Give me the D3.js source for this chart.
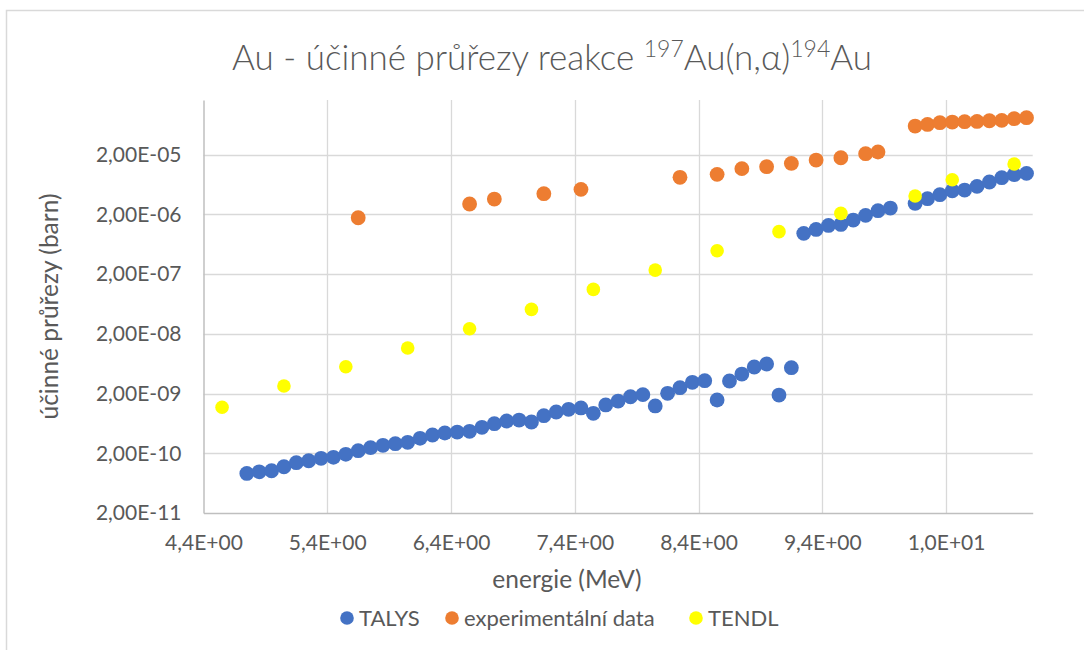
<!DOCTYPE html>
<html>
<head>
<meta charset="utf-8">
<script src="https://cdn.jsdelivr.net/npm/d3@7"></script>
<style>
  html, body { margin: 0; padding: 0; background: #fff; }
  svg { display: block; font-family: Lato, "Open Sans", sans-serif; }
</style>
</head>
<body>
<svg id="chart" width="1084" height="650"></svg>
<script>
// Energies (MeV) and cross sections (barn) for 197Au(n,α)194Au
const talysEnergy = [
  4.75, 4.85, 4.95, 5.05, 5.15, 5.25, 5.35, 5.45, 5.55, 5.65,
  5.75, 5.85, 5.95, 6.05, 6.15, 6.25, 6.35, 6.45, 6.55, 6.65,
  6.75, 6.85, 6.95, 7.05, 7.15, 7.25, 7.35, 7.45, 7.55, 7.65,
  7.75, 7.85, 7.95, 8.05, 8.15, 8.25, 8.35, 8.45, 8.55, 8.65,
  8.75, 8.85, 8.95, 9.05, 9.15,
  9.25, 9.35, 9.45, 9.55, 9.65, 9.75, 9.85, 9.95,
  10.15, 10.25, 10.35, 10.45, 10.55, 10.65, 10.75, 10.85, 10.95, 11.05
];
const talysSigma = [
  9.2e-11, 9.8e-11, 1.02e-10, 1.19e-10, 1.39e-10, 1.50e-10, 1.65e-10, 1.71e-10, 1.92e-10, 2.21e-10,
  2.48e-10, 2.72e-10, 2.90e-10, 3.05e-10, 3.56e-10, 4.05e-10, 4.37e-10, 4.54e-10, 4.67e-10, 5.45e-10,
  6.27e-10, 6.95e-10, 7.21e-10, 6.68e-10, 8.53e-10, 9.82e-10, 1.09e-9, 1.15e-9, 9.33e-10, 1.29e-9,
  1.50e-9, 1.77e-9, 1.92e-9, 1.24e-9, 2.02e-9, 2.51e-9, 3.09e-9, 3.29e-9, 1.56e-9, 3.25e-9,
  4.25e-9, 5.57e-9, 6.26e-9, 1.89e-9, 5.43e-9,
  9.64e-7, 1.12e-6, 1.31e-6, 1.36e-6, 1.61e-6, 1.93e-6, 2.31e-6, 2.56e-6,
  3.06e-6, 3.67e-6, 4.28e-6, 4.99e-6, 5.12e-6, 5.90e-6, 6.98e-6, 8.25e-6, 9.25e-6, 9.74e-6
];

const expEnergy = [
  5.65, 6.55, 6.75, 7.15, 7.45, 8.25, 8.55, 8.75, 8.95, 9.15,
  9.35, 9.55, 9.75, 9.85, 10.15, 10.25, 10.35, 10.45, 10.55, 10.65,
  10.75, 10.85, 10.95, 11.05
];
const expSigma = [
  1.76e-6, 2.99e-6, 3.62e-6, 4.45e-6, 5.26e-6, 8.36e-6, 9.38e-6, 1.17e-5, 1.26e-5, 1.43e-5,
  1.63e-5, 1.78e-5, 2.08e-5, 2.22e-5, 6.04e-5, 6.44e-5, 6.87e-5, 7.05e-5, 7.14e-5, 7.23e-5,
  7.42e-5, 7.52e-5, 8.02e-5, 8.34e-5
];

const tendlEnergy = [
  4.55, 5.05, 5.55, 6.05, 6.55, 7.05, 7.55, 8.05, 8.55, 9.05,
  9.55, 10.15, 10.45, 10.95
];
const tendlSigma = [
  1.18e-9, 2.68e-9, 5.64e-9, 1.16e-8, 2.44e-8, 5.14e-8, 1.11e-7, 2.34e-7, 4.94e-7, 1.03e-6,
  2.08e-6, 4.07e-6, 7.63e-6, 1.40e-5
];

const xTicks = [4.4, 5.4, 6.4, 7.4, 8.4, 9.4, 10.4];
const yTicks = [2e-11, 2e-10, 2e-9, 2e-8, 2e-7, 2e-6, 2e-5];
const seriesNames = ["TALYS", "experimentální data", "TENDL"];
const seriesColors = ["#4472C4", "#ED7D31", "#FFFF00"];

const X_MIN = 4.4, X_MAX = 11.1;
const Y_MIN = 2e-11, Y_MAX = 1.65e-4;

const series = [
  { name: seriesNames[0], color: seriesColors[0], r: 7.4, pts: talysEnergy.map((e, i) => [e, talysSigma[i]]) },
  { name: seriesNames[1], color: seriesColors[1], r: 7.4, pts: expEnergy.map((e, i) => [e, expSigma[i]]) },
  { name: seriesNames[2], color: seriesColors[2], r: 6.8, pts: tendlEnergy.map((e, i) => [e, tendlSigma[i]]) }
];

const svg = d3.select("#chart");
const plot = { left: 203.5, right: 1032.7, top: 100, bottom: 513 };
const textColor = "#595959";

const x = d3.scaleLinear().domain([X_MIN, X_MAX]).range([plot.left, plot.right]);
const y = d3.scaleLog().domain([Y_MIN, Y_MAX]).range([plot.bottom, plot.top]);

// Excel-style scientific labels with decimal comma
function sci(v, digits, expDigits) {
  const [m, e] = v.toExponential(digits).split("e");
  const ex = parseInt(e, 10);
  const sign = ex < 0 ? "-" : "+";
  return m.replace(".", ",") + "E" + sign + String(Math.abs(ex)).padStart(expDigits, "0");
}

// chart border
svg.append("rect")
  .attr("x", 6.5).attr("y", 10.5)
  .attr("width", 1200).attr("height", 800)
  .attr("fill", "none").attr("stroke", "#d9d9d9").attr("stroke-width", 1.5);

// gridlines
const grid = svg.append("g");
grid.selectAll("line.h").data(yTicks.slice(1)).join("line")
  .attr("x1", plot.left).attr("x2", plot.right)
  .attr("y1", d => Math.round(y(d)) + 0.5).attr("y2", d => Math.round(y(d)) + 0.5)
  .attr("stroke", "#d9d9d9").attr("stroke-width", 1.3);
grid.selectAll("line.v").data(xTicks.slice(1)).join("line")
  .attr("y1", plot.top).attr("y2", plot.bottom)
  .attr("x1", d => Math.round(x(d)) + 0.5).attr("x2", d => Math.round(x(d)) + 0.5)
  .attr("stroke", "#d9d9d9").attr("stroke-width", 1.3);

// axes
const xAxis = d3.axisBottom(x).tickValues(xTicks).tickSize(0).tickPadding(22)
  .tickFormat(d => sci(d, 1, 2));
const gx = svg.append("g").attr("transform", `translate(0,${plot.bottom})`).call(xAxis);
gx.select(".domain").attr("stroke", "#bfbfbf").attr("stroke-width", 1.5);
gx.selectAll("text").attr("fill", textColor).style("font-size", "21px").style("font-family", "Lato");

const yAxis = d3.axisLeft(y).tickValues(yTicks).tickSize(0).tickPadding(22)
  .tickFormat(d => sci(d, 2, 2));
const gy = svg.append("g").attr("transform", `translate(${plot.left},0)`).call(yAxis);
gy.select(".domain").attr("stroke", "#bfbfbf").attr("stroke-width", 1.5);
gy.selectAll("text").attr("fill", textColor).style("font-size", "21px").style("font-family", "Lato");

// markers, drawn in series order
series.forEach(s => {
  svg.append("g").selectAll("circle").data(s.pts).join("circle")
    .attr("cx", d => x(d[0])).attr("cy", d => y(d[1]))
    .attr("r", s.r).attr("fill", s.color);
});

// title
const title = svg.append("text")
  .attr("x", 552).attr("y", 70)
  .attr("text-anchor", "middle")
  .attr("fill", textColor)
  .style("font-size", "35px").style("font-weight", 300);
title.append("tspan").text("Au - účinné průřezy reakce ");
title.append("tspan").text("197").style("font-size", "23px").attr("dy", -13);
title.append("tspan").text("Au(n,α)").attr("dy", 13);
title.append("tspan").text("194").style("font-size", "23px").attr("dy", -13);
title.append("tspan").text("Au").attr("dy", 13);

// axis titles
svg.append("text")
  .attr("x", 567).attr("y", 588)
  .attr("text-anchor", "middle").attr("fill", textColor)
  .style("font-size", "24.5px")
  .text("energie (MeV)");

svg.append("text")
  .attr("transform", `translate(58,${(plot.top + plot.bottom) / 2}) rotate(-90)`)
  .attr("text-anchor", "middle").attr("fill", textColor)
  .style("font-size", "24.5px")
  .text("účinné průřezy (barn)");

// legend
const legendItems = [
  { name: seriesNames[0], color: seriesColors[0], cx: 347 },
  { name: seriesNames[1], color: seriesColors[1], cx: 452 },
  { name: seriesNames[2], color: seriesColors[2], cx: 696 }
];
const lg = svg.append("g").selectAll("g").data(legendItems).join("g")
  .attr("transform", d => `translate(${d.cx},618)`);
lg.append("circle").attr("r", 6.8).attr("fill", d => d.color);
lg.append("text").attr("x", 12).attr("y", 7.5)
  .attr("fill", textColor).style("font-size", "22px")
  .text(d => d.name);
</script>
</body>
</html>
